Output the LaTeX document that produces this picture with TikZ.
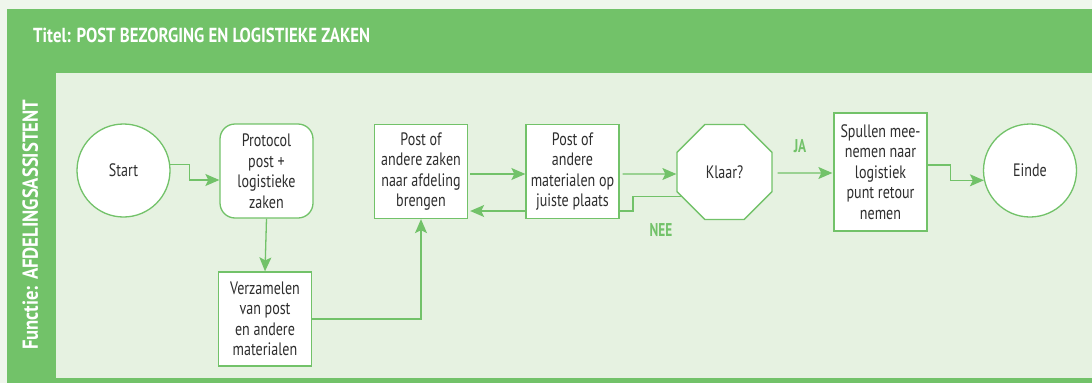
\documentclass[tikz,border=0pt]{standalone}
\usepackage{fontspec}
\usepackage{graphicx}
\setmainfont{PT Sans}[FakeStretch=0.78]
\newfontfamily\headfont{PT Sans}[FakeStretch=0.72]
\usetikzlibrary{shapes.geometric,arrows.meta,calc}
\definecolor{frame}{HTML}{72C269}
\definecolor{panel}{HTML}{E6F2E1}
\definecolor{outer}{HTML}{EFF6EC}
\definecolor{ink}{HTML}{2E2E2E}
\tikzset{
  stepbox/.style={draw=frame, line width=1.3pt, fill=white, text=ink,
    minimum width=93pt, minimum height=94pt, inner sep=0pt, align=center,
    font=\fontsize{18}{20.5}\selectfont},
  roundbox/.style={stepbox, rounded corners=15pt},
  terminal/.style={circle, draw=frame, line width=1.3pt, fill=white, text=ink,
    minimum size=93pt, inner sep=0pt, font=\fontsize{18}{20.5}\selectfont},
  decision/.style={regular polygon, regular polygon sides=8, draw=frame,
    line width=1.3pt, fill=white, text=ink, minimum size=102.8pt, inner sep=0pt,
    font=\fontsize{18}{20.5}\selectfont},
  flow/.style={draw=frame, line width=1.3pt},
  arr/.style={flow, -{Stealth[length=14pt, width=12pt, inset=3pt]}},
  tag/.style={text=frame, inner sep=0pt, font=\headfont\bfseries\fontsize{18.5}{18.5}\selectfont},
  banner/.style={text=white, inner sep=0pt, font=\headfont\bfseries}
}
\begin{document}
\begin{tikzpicture}[x=1pt, y=-1pt]
  % page background, frame and lane
  \useasboundingbox (0,0) rectangle (1092,383);
  \fill[outer] (0,0) rectangle (1092,383);
  \fill[frame] (7,9) rectangle (1092,383);
  \fill[panel] (56,73) rectangle (1092,378);
  \node[banner, anchor=south west] (title) at (33,43.3)
        {\resizebox{337pt}{14.5pt}{Titel: POST BEZORGING EN LOGISTIEKE ZAKEN}};
  \node[banner, rotate=90, anchor=south west] (role) at (38.5,350)
        {\resizebox{250pt}{15.5pt}{Functie: AFDELINGSASSISTENT}};

  % steps
  \node[terminal] (start) at (123.5,170.5) {Start};
  \node[roundbox] (proto) at (266.5,171) {Protocol\\post +\\logistieke\\zaken};
  \node[stepbox]  (verz)  at (265,319) {Verzamelen\\van post\\en andere\\materialen};
  \node[stepbox]  (post)  at (421,171.5) {Post of\\andere zaken\\naar afdeling\\brengen};
  \node[stepbox]  (mat)   at (572.5,171.5) {Post of\\andere\\materialen op\\juiste plaats};
  \node[decision] (klaar) at (724.5,172) {Klaar?};
  \node[stepbox, minimum height=118pt] (spul) at (880.5,172)
        {Spullen mee-\\nemen naar\\logistiek\\punt retour\\nemen};
  \node[terminal] (einde) at (1030,170.5) {Einde};

  % connectors
  \draw[arr] (start.7) -- ++(19,0) |- ($(proto.west)+(0,9)$);
  \draw[arr] (proto.south) -- (verz.north);
  \draw[arr] (verz.east) -| (post.south);
  \draw[arr] ($(post.east)+(2,2.5)$) -- ($(mat.west)+(0,2.5)$);
  \draw[arr] ($(mat.east)+(3,2.5)$) -- ($(klaar.west)+(0,2)$);
  \coordinate (bend) at (633,211);
  \draw[flow] (klaar.209) -| (bend) -- (mat.east |- bend);
  \draw[arr] (mat.west |- bend) -- ($(post.east |- bend)+(2,0)$);
  \draw[arr] ($(klaar.east)+(5,1)$) -- ($(spul.west)+(-1,1)$);
  \draw[arr] ($(spul.east)+(0,-7)$) -- ++(23,0) |- (einde.192);

  % decision labels
  \node[tag] (ja)  at (800,146) {JA};
  \node[tag] (nee) at (661,230) {NEE};
\end{tikzpicture}
\end{document}
